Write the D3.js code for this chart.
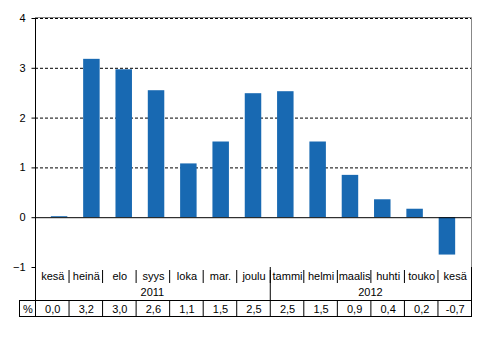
<!DOCTYPE html>
<html>
<head>
<meta charset="utf-8">
<script src="https://cdn.jsdelivr.net/npm/d3@7"></script>
<style>
  body { margin: 0; background: #fff; }
  svg text { font-family: Arial, "Liberation Sans", sans-serif; font-size: 11px; fill: #000; }
</style>
</head>
<body>
<svg id="chart" width="493" height="362"></svg>
<script>
// months and the change (%) from the picture
const months = ['kesä', 'heinä', 'elo', 'syys', 'loka', 'mar.', 'joulu',
  'tammi', 'helmi', 'maalis', 'huhti', 'touko', 'kesä']
const values = [0.02, 3.18, 2.97, 2.55, 1.08, 1.52, 2.49, 2.53, 1.52, 0.85, 0.36, 0.17, -0.75]
const tableLabels = ['0,0', '3,2', '3,0', '2,6', '1,1', '1,5', '2,5',
  '2,5', '1,5', '0,9', '0,4', '0,2', '-0,7']
const years = [{label: '2011', from: 0, to: 7}, {label: '2012', from: 7, to: 13}]
const yTicks = [-1, 0, 1, 2, 3, 4]

const svg = d3.select('#chart')
const plotL = 35, plotR = 471, plotT = 18, plotB = 267
const rowCat = 283, rowYear = 300, rowVal = 316, pctLeft = 19

const x = d3.scaleBand().domain(d3.range(months.length)).range([plotL, plotR]).padding(0.49)
const xb = d3.scaleBand().domain(d3.range(months.length)).range([plotL, plotR])
const y = d3.scaleLinear().domain([-1, 4]).range([plotB, plotT])

// dashed gridlines
svg.append('g')
  .selectAll('line')
  .data(yTicks.filter(d => d > 0))
  .join('line')
  .attr('x1', plotL).attr('x2', plotR)
  .attr('y1', d => y(d) + 0.5).attr('y2', d => y(d) + 0.5)
  .attr('stroke', '#000')
  .attr('stroke-dasharray', '3,2')

// frame top/right in gray
svg.append('path')
  .attr('d', `M${plotL},${plotT - 0.5}H${plotR + 0.5}V${plotB}`)
  .attr('fill', 'none').attr('stroke', '#888')

// bars
svg.append('g')
  .selectAll('rect')
  .data(values)
  .join('rect')
  .attr('x', (d, i) => x(i))
  .attr('width', x.bandwidth())
  .attr('y', d => y(Math.max(0, d)))
  .attr('height', d => Math.abs(y(d) - y(0)))
  .attr('fill', '#1869b2')

// zero line
svg.append('line')
  .attr('x1', plotL).attr('x2', plotR)
  .attr('y1', y(0) + 0.5).attr('y2', y(0) + 0.5)
  .attr('stroke', '#000')

// y axis
const yAxis = svg.append('g')
  .attr('transform', `translate(${plotL + 0.5},0)`)
  .call(d3.axisLeft(y).tickValues(yTicks).tickFormat(d3.format('d')).tickSize(4).tickPadding(6))
yAxis.select('.domain').remove()
yAxis.selectAll('text').style('font-size', '11px').style('font-family', 'Arial, "Liberation Sans", sans-serif')

// --- table under the chart
const tbl = svg.append('g').attr('stroke', '#000').attr('fill', 'none')
// left axis line running through the table
tbl.append('line').attr('x1', plotL + 0.5).attr('x2', plotL + 0.5).attr('y1', plotT).attr('y2', rowVal + 0.5)
// right border of the table
tbl.append('line').attr('x1', plotR + 0.5).attr('x2', plotR + 0.5).attr('y1', plotB).attr('y2', rowVal + 0.5)
// month dividers
tbl.selectAll('.mdiv')
  .data(d3.range(1, months.length))
  .join('line')
  .attr('x1', i => xb(i) + 0.5).attr('x2', i => xb(i) + 0.5)
  .attr('y1', plotB + 3).attr('y2', rowCat)
// year divider
tbl.selectAll('.ydiv')
  .data(years.slice(1))
  .join('line')
  .attr('x1', d => xb(d.from) + 0.5).attr('x2', d => xb(d.from) + 0.5)
  .attr('y1', plotB).attr('y2', rowYear)
// value row
tbl.append('rect')
  .attr('x', pctLeft + 0.5).attr('y', rowYear + 0.5)
  .attr('width', plotR - pctLeft).attr('height', rowVal - rowYear)
tbl.selectAll('.vdiv')
  .data(d3.range(1, months.length))
  .join('line')
  .attr('x1', i => xb(i) + 0.5).attr('x2', i => xb(i) + 0.5)
  .attr('y1', rowYear).attr('y2', rowVal)

svg.append('g')
  .selectAll('text')
  .data(months)
  .join('text')
  .attr('x', (d, i) => xb(i) + xb.bandwidth() / 2 + 1)
  .attr('y', plotB + 13)
  .attr('text-anchor', 'middle')
  .text(d => d)

svg.append('g')
  .selectAll('text')
  .data(years)
  .join('text')
  .attr('x', d => (xb(d.from) + (d.to < months.length ? xb(d.to) : plotR)) / 2)
  .attr('y', rowCat + 13)
  .attr('text-anchor', 'middle')
  .text(d => d.label)

svg.append('g')
  .selectAll('text')
  .data(tableLabels)
  .join('text')
  .attr('x', (d, i) => xb(i) + xb.bandwidth() / 2 + 1)
  .attr('y', rowVal - 3)
  .attr('text-anchor', 'middle')
  .text(d => d)

svg.append('text')
  .attr('x', (pctLeft + plotL) / 2 + 1)
  .attr('y', rowVal - 3)
  .attr('text-anchor', 'middle')
  .text('%')
</script>
</body>
</html>
